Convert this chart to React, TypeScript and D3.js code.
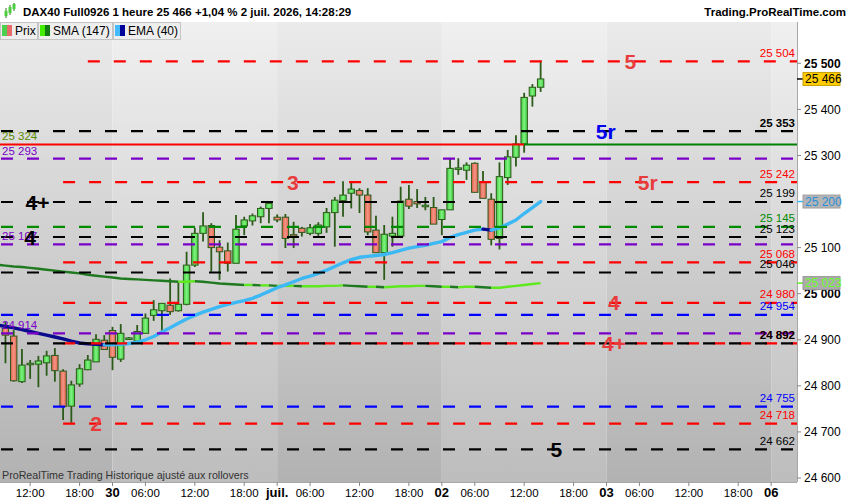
import React from 'react';
import * as d3 from 'd3';

// hourly bars, index 0 = 29 juin 02:00 (20 bars per session day)
const firstBar = 7;
const candleOpen = [24925, 24908, 24809, 24846, 24847, 24850, 24866, 24832, 24756, 24804, 24835, 24852, 24899, 24920, 24858, 24902, 24897, 24914, 24953, 24963, 24975, 24963, 24977, 25062, 25131, 25148, 25101, 25093, 25066, 25147, 25158, 25167, 25185, 25166, 25166, 25128, 25142, 25131, 25131, 25145, 25176, 25202, 25218, 25224, 25214, 25138, 25089, 25125, 25125, 25205, 25200, 25189, 25187, 25161, 25182, 25271, 25268, 25283, 25242, 25205, 25120, 25252, 25296, 25325, 25429, 25448];
const candleHigh = [24939, 24921, 24880, 24856, 24865, 24876, 24882, 24836, 24811, 24847, 24867, 24912, 24910, 24928, 24934, 24906, 24932, 24957, 24986, 24980, 25033, 25025, 25091, 25143, 25177, 25153, 25116, 25111, 25171, 25167, 25174, 25189, 25197, 25172, 25173, 25156, 25145, 25151, 25155, 25186, 25210, 25244, 25241, 25229, 25229, 25169, 25149, 25167, 25232, 25236, 25227, 25210, 25210, 25182, 25294, 25294, 25285, 25285, 25266, 25218, 25285, 25312, 25344, 25436, 25455, 25506];
const candleLow = [24849, 24809, 24806, 24815, 24797, 24822, 24809, 24726, 24720, 24798, 24834, 24852, 24878, 24834, 24852, 24900, 24897, 24914, 24941, 24918, 24954, 24961, 24975, 25058, 25113, 25048, 25030, 25048, 25066, 25127, 25148, 25153, 25153, 25155, 25099, 25099, 25124, 25127, 25122, 25132, 25102, 25167, 25185, 25175, 25127, 25089, 25030, 25102, 25125, 25184, 25186, 25181, 25151, 25127, 25182, 25258, 25247, 25220, 25207, 25105, 25096, 25236, 25276, 25306, 25406, 25438];
const candleClose = [24910, 24811, 24845, 24849, 24854, 24865, 24833, 24755, 24802, 24837, 24856, 24901, 24879, 24862, 24914, 24904, 24918, 24947, 24965, 24979, 24961, 24977, 25062, 25131, 25147, 25100, 25091, 25066, 25140, 25160, 25169, 25185, 25196, 25160, 25120, 25125, 25133, 25143, 25149, 25176, 25203, 25214, 25227, 25214, 25134, 25089, 25129, 25131, 25201, 25190, 25195, 25192, 25151, 25182, 25272, 25273, 25279, 25220, 25207, 25118, 25254, 25297, 25325, 25426, 25448, 25466];

// moving averages, from bar 6
const maFirst = 6;
const sma147 = [25063, 25061, 25059, 25058, 25056, 25054, 25052, 25050, 25048, 25046, 25044, 25041, 25039, 25037, 25035, 25033, 25032, 25031, 25030, 25029, 25028, 25027, 25026, 25026, 25027, 25026, 25024, 25022, 25021, 25020, 25019, 25019, 25018, 25018, 25017, 25017, 25017, 25016, 25016, 25016, 25017, 25017, 25018, 25017, 25016, 25015, 25015, 25014, 25015, 25016, 25016, 25017, 25017, 25016, 25015, 25015, 25014, 25015, 25015, 25014, 25013, 25013, 25015, 25017, 25019, 25021, 25023];
const ema40 = [24932, 24929, 24926, 24922, 24918, 24914, 24910, 24906, 24902, 24897, 24893, 24891, 24890, 24889, 24889, 24890, 24892, 24895, 24900, 24907, 24917, 24926, 24936, 24945, 24953, 24960, 24966, 24972, 24977, 24981, 24985, 24990, 24997, 25005, 25013, 25019, 25026, 25033, 25038, 25044, 25051, 25059, 25067, 25074, 25079, 25081, 25083, 25085, 25089, 25094, 25099, 25102, 25105, 25109, 25113, 25122, 25128, 25133, 25138, 25140, 25138, 25143, 25151, 25160, 25174, 25187, 25200];

// horizontal levels
const levelPrices = [25504, 25353, 25293, 25242, 25199, 25145, 25123, 25107, 25068, 25046, 24980, 24954, 24914, 24892, 24892, 24755, 24718, 24662];
const levelKinds = ['red', 'black', 'purple', 'red', 'black', 'green', 'black', 'purple', 'red', 'black', 'red', 'blue', 'purple', 'red', 'black', 'blue', 'red', 'black'];
const levelStartBar = [17, 0, 0, 14, 0, 0, 0, 0, 14, 0, 14, 0, 0, 14, 0, 0, 14, 0];
const levelLabelSide = ['right', 'right', 'left', 'right', 'right', 'right', 'right', 'left', 'right', 'right', 'right', 'right', 'left', 'right', 'right', 'right', 'right', 'right'];

const pivotPrice = 25324;
const pivotSwitchBar = 70;

const noteTexts = ['5', '5r', '5r', '3', '4+', '4', '4', '4+', '2', '5'];
const notePrices = [25504, 25353, 25242, 25242, 25199, 25123, 24980, 24892, 24718, 24662];
const noteBars = [82.9, 79.9, 85, 41.9, 10.9, 10, 80.9, 80.9, 18, 73.9];
const noteKinds = ['red', 'blue', 'red', 'red', 'black', 'black', 'red', 'red', 'red', 'black'];

const priceTicks = [24600, 24700, 24800, 24900, 25000, 25100, 25200, 25300, 25400, 25500];
const dayBars = [20, 40, 60, 80, 100];
const dayLabels = ['30', 'juil.', '02', '03', '06'];
const hourBars = [10, 16, 24, 30, 36, 44, 50, 56, 64, 70, 76, 84, 90, 96];
const hourLabels = ['12:00', '18:00', '06:00', '12:00', '18:00', '06:00', '12:00', '18:00', '06:00', '12:00', '18:00', '06:00', '12:00', '18:00'];

const lastPrice = 25466;
const lastSma = 25023;
const lastEma = 25200;

const FONT = '"Liberation Sans", Arial, sans-serif';
const levelColor: { [k: string]: string } = {
    red: '#ff0000', black: '#000000', purple: '#7a00c8', green: '#008a00', blue: '#0000ff',
};
const noteColor: { [k: string]: string } = { red: '#e83c3c', black: '#000000', blue: '#0000ee' };

const fmt = (v: number) => d3.format(',')(v).replace(',', ' ');

// split a series into rising / falling runs
const slopeRuns = (vals: number[], first: number) => {
    const out: { up: boolean; pts: [number, number][] }[] = [];
    for (let k = 1; k < vals.length; k++) {
        const up = vals[k] >= vals[k - 1];
        const last = out[out.length - 1];
        if (last && last.up === up) last.pts.push([first + k, vals[k]]);
        else out.push({ up, pts: [[first + k - 1, vals[k - 1]], [first + k, vals[k]]] });
    }
    return out;
};

const App: React.FC = () => {
    const plotRight = 797;
    const plotTop = 22;
    const plotBottom = 482;

    const y = d3.scaleLinear().domain([24600, 25500]).range([478, 63.3]);
    const x = d3.scaleLinear().domain([20, 80]).range([112.5, 606.5]);

    const line = d3.line<[number, number]>().x(d => x(d[0])).y(d => y(d[1]));

    const bands = [-20, ...dayBars, 130];
    const smaRuns = slopeRuns(sma147, maFirst);
    const emaRuns = slopeRuns(ema40, maFirst);

    return (
        <div style={{ position: 'fixed', left: 0, top: 0 }}>
            <svg width={850} height={500} style={{ display: 'block', fontFamily: FONT }}>
                <defs>
                    <linearGradient id="bandA" x1="0" y1="0" x2="0" y2="1">
                        <stop offset="0" stopColor="#ebebeb" />
                        <stop offset="1" stopColor="#b2b2b2" />
                    </linearGradient>
                    <linearGradient id="bandB" x1="0" y1="0" x2="0" y2="1">
                        <stop offset="0" stopColor="#f0f0f0" />
                        <stop offset="1" stopColor="#bdbdbd" />
                    </linearGradient>
                    <linearGradient id="upBody" x1="0" y1="0" x2="1" y2="0">
                        <stop offset="0" stopColor="#3ccc3c" />
                        <stop offset="0.5" stopColor="#80f280" />
                        <stop offset="1" stopColor="#3ccc3c" />
                    </linearGradient>
                    <linearGradient id="downBody" x1="0" y1="0" x2="1" y2="0">
                        <stop offset="0" stopColor="#e0604e" />
                        <stop offset="0.5" stopColor="#f59484" />
                        <stop offset="1" stopColor="#e0604e" />
                    </linearGradient>
                    <clipPath id="plotClip">
                        <rect x={0} y={plotTop} width={plotRight} height={plotBottom - plotTop} />
                    </clipPath>
                </defs>

                <rect x={0} y={0} width={850} height={500} fill="#ffffff" />

                <g clipPath="url(#plotClip)">
                    {bands.slice(0, -1).map((b, k) => (
                        <rect key={k} x={x(b)} y={plotTop} width={x(bands[k + 1]) - x(b)} height={plotBottom - plotTop}
                            fill={k % 2 === 0 ? 'url(#bandA)' : 'url(#bandB)'} />
                    ))}

                    {/* candles */}
                    {candleOpen.map((o, k) => {
                        const i = firstBar + k;
                        const c = candleClose[k];
                        const up = c >= o;
                        const cx = x(i);
                        const top = y(Math.max(o, c));
                        const h = Math.max(1.5, y(Math.min(o, c)) - top);
                        return (
                            <g key={i}>
                                <line x1={cx} x2={cx} y1={y(candleHigh[k])} y2={y(candleLow[k])} stroke="#2c5a18" strokeWidth={1.8} />
                                <rect x={cx - 3.2} y={top} width={6.4} height={h}
                                    fill={up ? 'url(#upBody)' : 'url(#downBody)'} stroke="#2c5a18" strokeWidth={1} />
                            </g>
                        );
                    })}

                    {/* SMA 147 */}
                    {smaRuns.map((r, k) => (
                        <path key={'s' + k} d={line(r.pts) || ''} fill="none" strokeWidth={2.4}
                            stroke={r.up ? '#5ee81e' : '#1f7a1f'} strokeLinejoin="round" />
                    ))}
                    {/* EMA 40 */}
                    {emaRuns.map((r, k) => (
                        <path key={'e' + k} d={line(r.pts) || ''} fill="none" strokeWidth={3.4}
                            stroke={r.up ? '#3cb8f4' : '#0a0a8c'} strokeLinejoin="round" strokeLinecap="round" />
                    ))}

                    {/* levels */}
                    {levelPrices.map((p, k) => (
                        <line key={'l' + k} x1={levelStartBar[k] ? x(levelStartBar[k]) : 1} x2={plotRight}
                            y1={y(p)} y2={y(p)} stroke={levelColor[levelKinds[k]]} strokeWidth={2.2} strokeDasharray="12 14" />
                    ))}
                    <line x1={0} x2={x(pivotSwitchBar)} y1={y(pivotPrice)} y2={y(pivotPrice)} stroke="#ff0000" strokeWidth={2} />
                    <line x1={x(pivotSwitchBar)} x2={plotRight} y1={y(pivotPrice)} y2={y(pivotPrice)} stroke="#008000" strokeWidth={2} />

                    {/* level values */}
                    {levelPrices.map((p, k) => levelLabelSide[k] === 'right' ? (
                        <text key={'r' + k} x={795} y={y(p) - 4.5} textAnchor="end" fontSize={11.5}
                            fontWeight={levelKinds[k] === 'black' && (p === 25353 || p === 24892) ? 'bold' : 'normal'}
                            fill={levelColor[levelKinds[k]]}>{fmt(p)}</text>
                    ) : (
                        <text key={'g' + k} x={2} y={y(p) - 4} fontSize={11.5} fill={levelColor[levelKinds[k]]}>{fmt(p)}</text>
                    ))}
                    <text x={2} y={y(pivotPrice) - 4} fontSize={11.5} fill="#5a8a00">{fmt(pivotPrice)}</text>

                    {/* pivot annotations */}
                    {noteTexts.map((t, k) => (
                        <text key={'n' + k} x={x(noteBars[k])} y={y(notePrices[k])} dy="0.36em" textAnchor="middle"
                            fontSize={21} fontWeight="bold" fill={noteColor[noteKinds[k]]}>{t}</text>
                    ))}

                    <text x={2} y={479} fontSize={10.7} fill="#333333">ProRealTime Trading  Historique ajusté aux rollovers</text>
                </g>

                {/* right price axis */}
                <line x1={plotRight + 0.5} x2={plotRight + 0.5} y1={plotTop} y2={plotBottom} stroke="#a8a8a8" />
                {priceTicks.map(p => (
                    <g key={p}>
                        <line x1={plotRight} x2={plotRight + 4} y1={y(p)} y2={y(p)} stroke="#888888" />
                        <text x={804} y={y(p)} dy="0.35em" fontSize={12} fontWeight={p % 500 === 0 ? 'bold' : 'normal'} fill="#000">{fmt(p)}</text>
                    </g>
                ))}
                <line x1={plotRight} x2={803} y1={y(lastSma)} y2={y(lastSma)} stroke="#5ee81e" strokeWidth={1.5} />
                <rect x={803} y={y(lastSma) - 6.5} width={37} height={13} fill="#ababab" stroke="#999" />
                <text x={805} y={y(lastSma)} dy="0.36em" fontSize={12} fill="#6cff2a">{fmt(lastSma)}</text>
                <line x1={plotRight} x2={803} y1={y(lastEma)} y2={y(lastEma)} stroke="#3cb8f4" strokeWidth={1.5} />
                <rect x={803} y={y(lastEma) - 6.5} width={37} height={13} fill="#b4b4b4" stroke="#a0a0a0" />
                <text x={805} y={y(lastEma)} dy="0.36em" fontSize={12} fill="#2a8fd8">{fmt(lastEma)}</text>
                <line x1={plotRight} x2={803} y1={y(lastPrice)} y2={y(lastPrice)} stroke="#000" strokeWidth={1.5} />
                <rect x={803} y={y(lastPrice) - 6.5} width={37} height={13} fill="#ffcc00" stroke="#c9a200" />
                <text x={805} y={y(lastPrice)} dy="0.36em" fontSize={12} fill="#000">{fmt(lastPrice)}</text>

                {/* time axis */}
                <line x1={0} x2={plotRight} y1={plotBottom + 0.5} y2={plotBottom + 0.5} stroke="#a8a8a8" />
                {hourBars.map((b, k) => (
                    <g key={'h' + k}>
                        <line x1={x(b)} x2={x(b)} y1={plotBottom} y2={plotBottom + 4} stroke="#888" />
                        <text x={x(b)} y={497} textAnchor="middle" fontSize={11.5} fill="#000">{hourLabels[k]}</text>
                    </g>
                ))}
                {dayBars.map((b, k) => (
                    <g key={'d' + k}>
                        <line x1={x(b)} x2={x(b)} y1={plotBottom} y2={plotBottom + 4} stroke="#888" />
                        <text x={x(b)} y={497} textAnchor="middle" fontSize={13} fontWeight="bold" fill="#000">{dayLabels[k]}</text>
                    </g>
                ))}

                {/* header */}
                <rect x={0} y={0} width={850} height={plotTop} fill="#ffffff" />
                <line x1={6} x2={6} y1={8} y2={18} stroke="#2c7a18" strokeWidth={1} />
                <rect x={4.5} y={11} width={3} height={5} fill="#4ccf3c" />
                <line x1={10} x2={10} y1={5} y2={15} stroke="#2c7a18" strokeWidth={1} />
                <rect x={8.5} y={7} width={3} height={6} fill="#4ccf3c" />
                <line x1={14} x2={14} y1={3} y2={11} stroke="#2c7a18" strokeWidth={1} />
                <rect x={12.5} y={4} width={3} height={5} fill="#4ccf3c" />
                <text x={23} y={16} fontSize={11.5} fontWeight="bold" fill="#000">DAX40 Full0926 1 heure 25 466 +1,04 % 2 juil. 2026, 14:28:29</text>
                <text x={846} y={16} textAnchor="end" fontSize={11.5} fontWeight="bold" fill="#000">Trading.ProRealTime.com</text>

                {/* legend tabs */}
                {[{ label: 'Prix', a: '#4ccf4c', b: '#e86a6a', x0: 0, w: 37 },
                  { label: 'SMA (147)', a: '#44ee00', b: '#127a12', x0: 38, w: 74 },
                  { label: 'EMA (40)', a: '#44bbff', b: '#00009a', x0: 113, w: 67 }].map(t => (
                    <g key={t.label}>
                        <rect x={t.x0 + 0.5} y={plotTop + 0.5} width={t.w} height={17} fill="#eeeeee" stroke="#c4c4c4" />
                        <rect x={t.x0 + 2} y={plotTop + 3} width={5} height={11} fill={t.a} />
                        <rect x={t.x0 + 7} y={plotTop + 3} width={5} height={11} fill={t.b} />
                        <text x={t.x0 + 15} y={plotTop + 13} fontSize={12} fill="#000">{t.label}</text>
                    </g>
                ))}
            </svg>
        </div>
    );
};

export default App;
